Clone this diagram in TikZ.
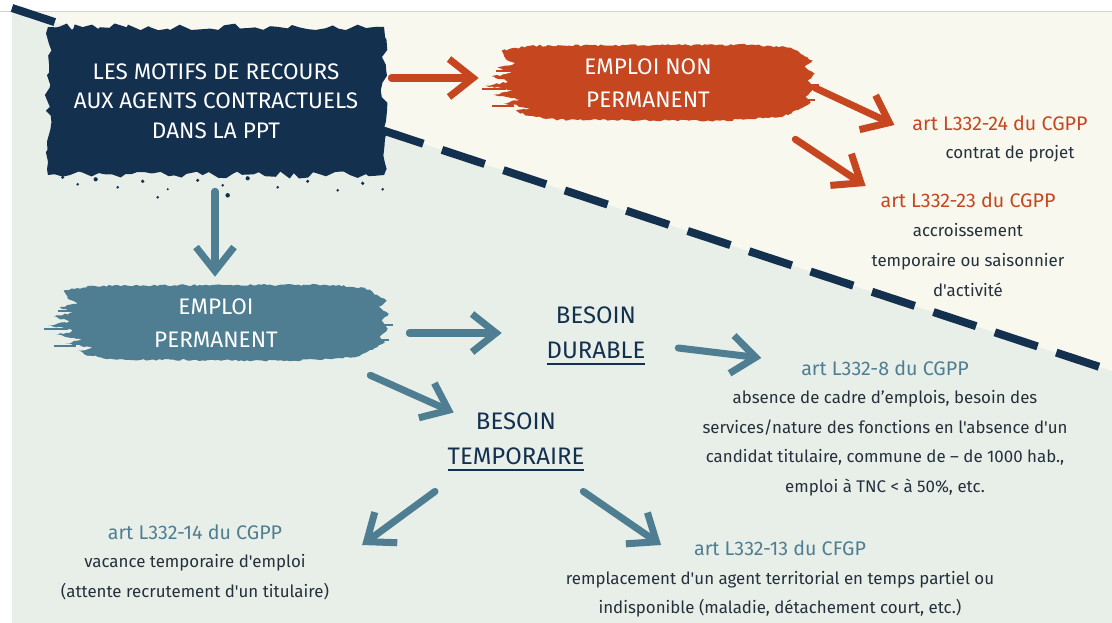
\documentclass[tikz,border=0pt]{standalone}
\usepackage{fontspec}
\setmainfont{Fira Sans}[Ligatures=TeXOff]
\usetikzlibrary{positioning,arrows.meta,decorations.pathmorphing,backgrounds,calc}

\definecolor{marine}{HTML}{14304F}
\definecolor{brique}{HTML}{C6461F}
\definecolor{canard}{HTML}{4F7E92}
\definecolor{encre}{HTML}{24303C}
\definecolor{creme}{HTML}{F9F8EE}
\definecolor{sauge}{HTML}{E8EFE8}

\newcommand{\souligne}[1]{\setbox0\hbox{#1}\leavevmode\rlap{\raisebox{-5pt}{\rule{\wd0}{2pt}}}\box0}

% coup de pinceau autour d'un noeud : #1 noeud, #2 couleur, #3 largeur (px)
\newcommand{\brosse}[3]{%
  \begin{scope}[shift={(#1.north west)}]
    \fill[#2, decorate, decoration={random steps,segment length=2pt,amplitude=0.7pt}]
      (16,6) -- (45,1) -- ({#3-60},0) -- ({#3-20},3) -- ({#3-8},10) -- ({#3+2},16)
      -- ({#3-6},22) -- ({#3+4},29) -- ({#3-3},36) -- ({#3+3},44) -- ({#3-5},52)
      -- ({#3},58) -- ({#3-12},65) -- ({#3-28},72) -- ({#3-90},76) -- (70,75)
      -- (42,71) -- (30,66) -- (45,63) -- (18,59) -- (34,55) -- (8,50) -- (28,46)
      -- (0,41) -- (24,37) -- (6,32) -- (26,28) -- (12,23) -- (30,19) -- (20,14) -- cycle;
    \draw[#2, line width=1.4pt] (-4,44) -- (20,44) (6,61) -- (28,61) (10,26) -- (30,26)
      ({#3-6},40) -- ({#3+8},40) ({#3-10},55) -- ({#3+4},55);
  \end{scope}}

\tikzset{
  titre/.style={align=center, text=white, font=\fontsize{16}{21}\selectfont},
  pinceau/.style={align=center, text=white, font=\fontsize{16}{24}\selectfont, minimum height=1.9cm},
  besoin/.style={align=center, text=marine, font=\fontsize{17}{25}\selectfont},
  article/.style={font=\fontsize{14}{18}\selectfont},
  detail/.style={align=center, text=encre, font=\fontsize{12}{21}\selectfont},
  fleche/.style={line width=5pt, line cap=round, -{Straight Barb[length=6mm,width=9.5mm]}},
}

\pgfmathsetseed{7}

\begin{document}
\begin{tikzpicture}[x=0.025cm, y=-0.025cm]
\useasboundingbox (0,0) rectangle (1112,623);

\begin{pgfonlayer}{background}
  \fill[white] (0,0) rectangle (1112,623);
  \fill[sauge] (12,12) rectangle (1112,623);
  \fill[creme] (24,12) -- (1112,12) -- (1112,371) -- cycle;
  \draw[gray!35, line width=0.6pt] (0,11) -- (1112,11);
  \draw[marine, line width=5.7pt, dash pattern=on 32pt off 14pt] (12,8) -- (1112,371);
\end{pgfonlayer}

\node[titre, fill=marine, decorate, decoration={random steps,segment length=5pt,amplitude=2.5pt},
      minimum width=8.4cm, minimum height=3.7cm] (motifs) at (216,101)
      {LES MOTIFS DE RECOURS\\AUX AGENTS CONTRACTUELS\\DANS LA PPT};
\foreach \dx/\dy/\r in {15/2/1.2, 30/9/1, 48/4/1.5, 70/12/1, 95/6/1.3, 120/14/0.8, 150/5/1.2,
    175/10/1, 200/3/1.5, 230/12/1, 260/6/1.2, 290/15/1, 315/8/1.3, 335/14/1, 180/20/1.6, 110/22/1}
  \fill[marine] ($(motifs.south west)+(\dx,\dy)$) circle (\r pt);

\node[pinceau, minimum width=8.1cm] (nonperm) at (648,83) {EMPLOI NON\\PERMANENT};
\node[article, text=brique] (art24) at (1000,123) {art L332-24 du CGPP};
\node[detail] (art24txt) at (1010,154) {contrat de projet};
\node[article, text=brique] (art23) at (968,200) {art L332-23 du CGPP};
\node[detail] (art23txt) at (968,260) {accroissement\\temporaire ou saisonnier\\d'activité};

\node[pinceau, minimum width=8.4cm] (perm) at (216,323) {EMPLOI\\PERMANENT};
\node[besoin] (besdur) at (596,336) {BESOIN\\\souligne{DURABLE}};
\node[article, text=canard] (art8) at (885,368) {art L332-8 du CGPP};
\node[detail] (art8txt) at (885,443) {absence de cadre d’emplois, besoin des\\services/nature des fonctions en l'absence d'un\\candidat titulaire, commune de – de 1000 hab.,\\emploi à TNC < à 50\%, etc.};
\node[besoin] (bestemp) at (516,442) {BESOIN\\\souligne{TEMPORAIRE}};
\node[article, text=canard] (art14) at (195,532) {art L332-14 du CGPP};
\node[detail] (art14txt) at (195,577) {vacance temporaire d'emploi\\(attente recrutement d'un titulaire)};
\node[article, text=canard] (art13) at (780,548) {art L332-13 du CFGP};
\node[detail] (art13txt) at (780,594) {remplacement d'un agent territorial en temps partiel ou\\indisponible (maladie, détachement court, etc.)};

\begin{pgfonlayer}{background}
  \brosse{nonperm}{brique}{325}
  \brosse{perm}{canard}{337}
\end{pgfonlayer}

\draw[fleche, brique] ($(motifs.east)+(7,-23)$) -- ($(nonperm.west)+(-7,-5)$);
\draw[fleche, brique] ($(nonperm.east)+(5,5)$) -- ($(art24.west)+(-13,2)$);
\draw[fleche, brique] ($(nonperm.south east)+(-15,18)$) -- ($(art23.west)+(-10,-14)$);
\draw[fleche, canard] ($(motifs.south)+(-1,16)$) -- ($(perm.north)+(-1,-8)$);
\draw[fleche, canard] ($(perm.east)+(25,10)$) -- ($(besdur.west)+(-40,-3)$);
\draw[fleche, canard] ($(besdur.east)+(28,12)$) -- ($(art8.west)+(-35,-10)$);
\draw[fleche, canard] ($(perm.south east)+(-14,14)$) -- ($(bestemp.north west)+(11,5)$);
\draw[fleche, canard] ($(bestemp.south)+(-81,15)$) -- ($(art14.east)+(75,13)$);
\draw[fleche, canard] ($(bestemp.south east)+(-6,15)$) -- ($(art13.west)+(-28,-3)$);
\end{tikzpicture}
\end{document}
